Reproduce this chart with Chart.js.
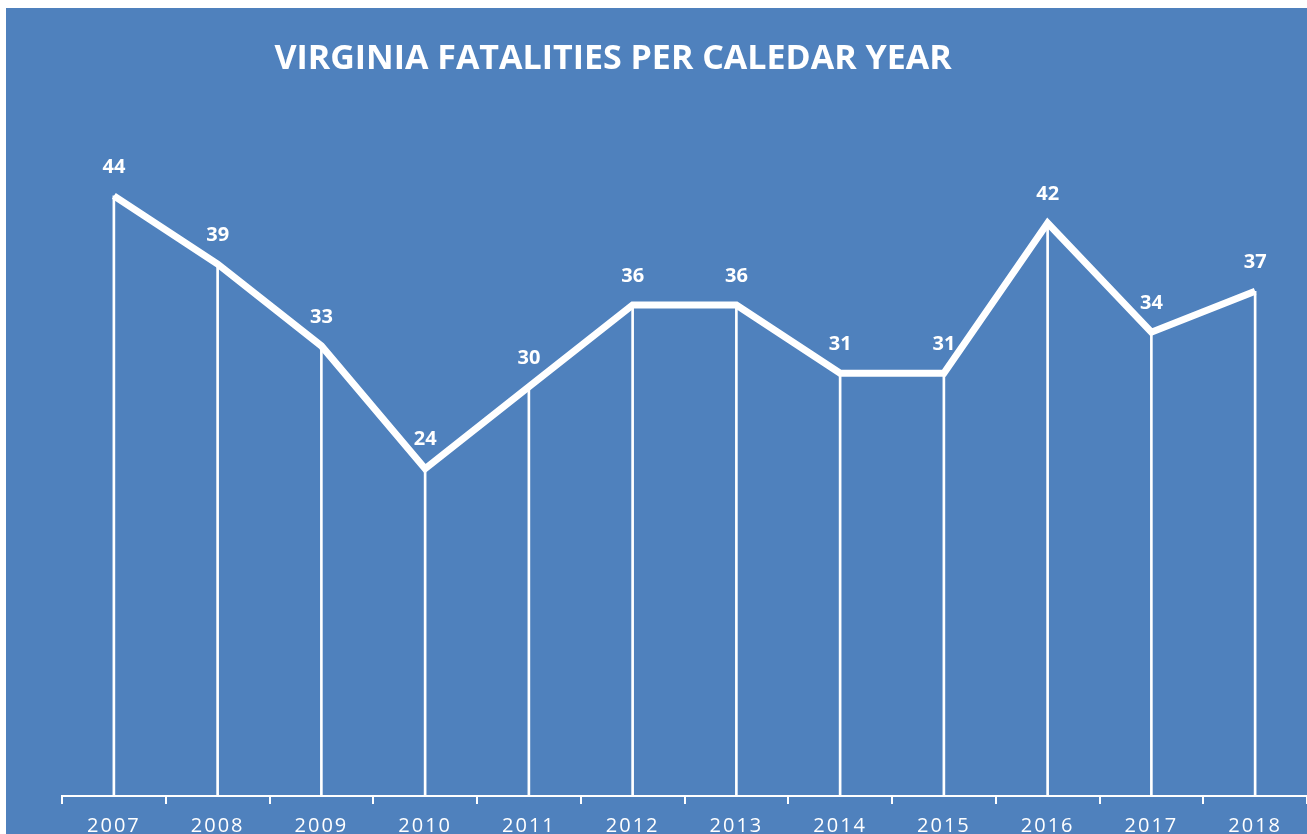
<!DOCTYPE html>
<html>
<head>
<meta charset="utf-8">
<script src="https://cdn.jsdelivr.net/npm/chart.js@4"></script>
<style>
  html, body { margin: 0; padding: 0; background: #fff; overflow: hidden; }
  #wrap { position: absolute; left: 6px; top: 8px; width: 1301px; height: 850px; background: #4f81bd; }
</style>
</head>
<body>
<div id="wrap"><canvas id="myChart" width="1301" height="850"></canvas></div>
<script>
var years = ["2007", "2008", "2009", "2010", "2011", "2012", "2013", "2014", "2015", "2016", "2017", "2018"];
var fatalities = [44, 39, 33, 24, 30, 36, 36, 31, 31, 42, 34, 37];
var chartTitle = "VIRGINIA FATALITIES PER CALEDAR YEAR";

var ctx = document.getElementById('myChart');

// title and point labels drawn on top
var labelPlugin = {
  id: 'labels',
  beforeDraw: function(chart) {
    chart.ctx.letterSpacing = '2px';
  },
  afterDatasetsDraw: function(chart) {
    var c = chart.ctx;
    var meta = chart.getDatasetMeta(1);
    c.letterSpacing = '0px';
    c.save();
    c.fillStyle = '#fff';
    c.textAlign = 'center';
    c.textBaseline = 'middle';
    c.font = 'bold 20px "Open Sans"';
    meta.data.forEach(function(pt, i) {
      c.fillText(fatalities[i], pt.x, pt.y - 29);
    });
    c.font = 'bold 34px "Open Sans"';
    c.fillText(chartTitle, 607, 51);
    c.restore();
  }
};

var lineChart = new Chart(ctx, {
  type: 'line',
  data: {
    labels: years,
    datasets: [{
      type: 'bar',
      data: fatalities,
      backgroundColor: '#ffffff',
      barThickness: 2,
      order: 2
    }, {
      type: 'line',
      data: fatalities,
      borderColor: '#ffffff',
      borderWidth: 7,
      pointRadius: 0,
      tension: 0,
      order: 1
    }]
  },
  options: {
    responsive: false,
    animation: false,
    layout: { padding: { top: 106, left: 56, right: 0, bottom: 0 } },
    plugins: { legend: { display: false }, tooltip: { enabled: false } },
    scales: {
      x: {
        offset: true,
        grid: { offset: true, drawOnChartArea: false, drawTicks: true, tickLength: 8, color: '#ffffff', lineWidth: 2 },
        border: { color: '#ffffff', width: 2 },
        ticks: { color: '#ffffff', font: { family: 'Open Sans', size: 20 }, padding: 10, maxRotation: 0 },
        afterFit: function(s) { s.height = 62; }
      },
      y: { display: false, min: 0, max: 50 }
    }
  },
  plugins: [labelPlugin]
});
</script>
</body>
</html>
